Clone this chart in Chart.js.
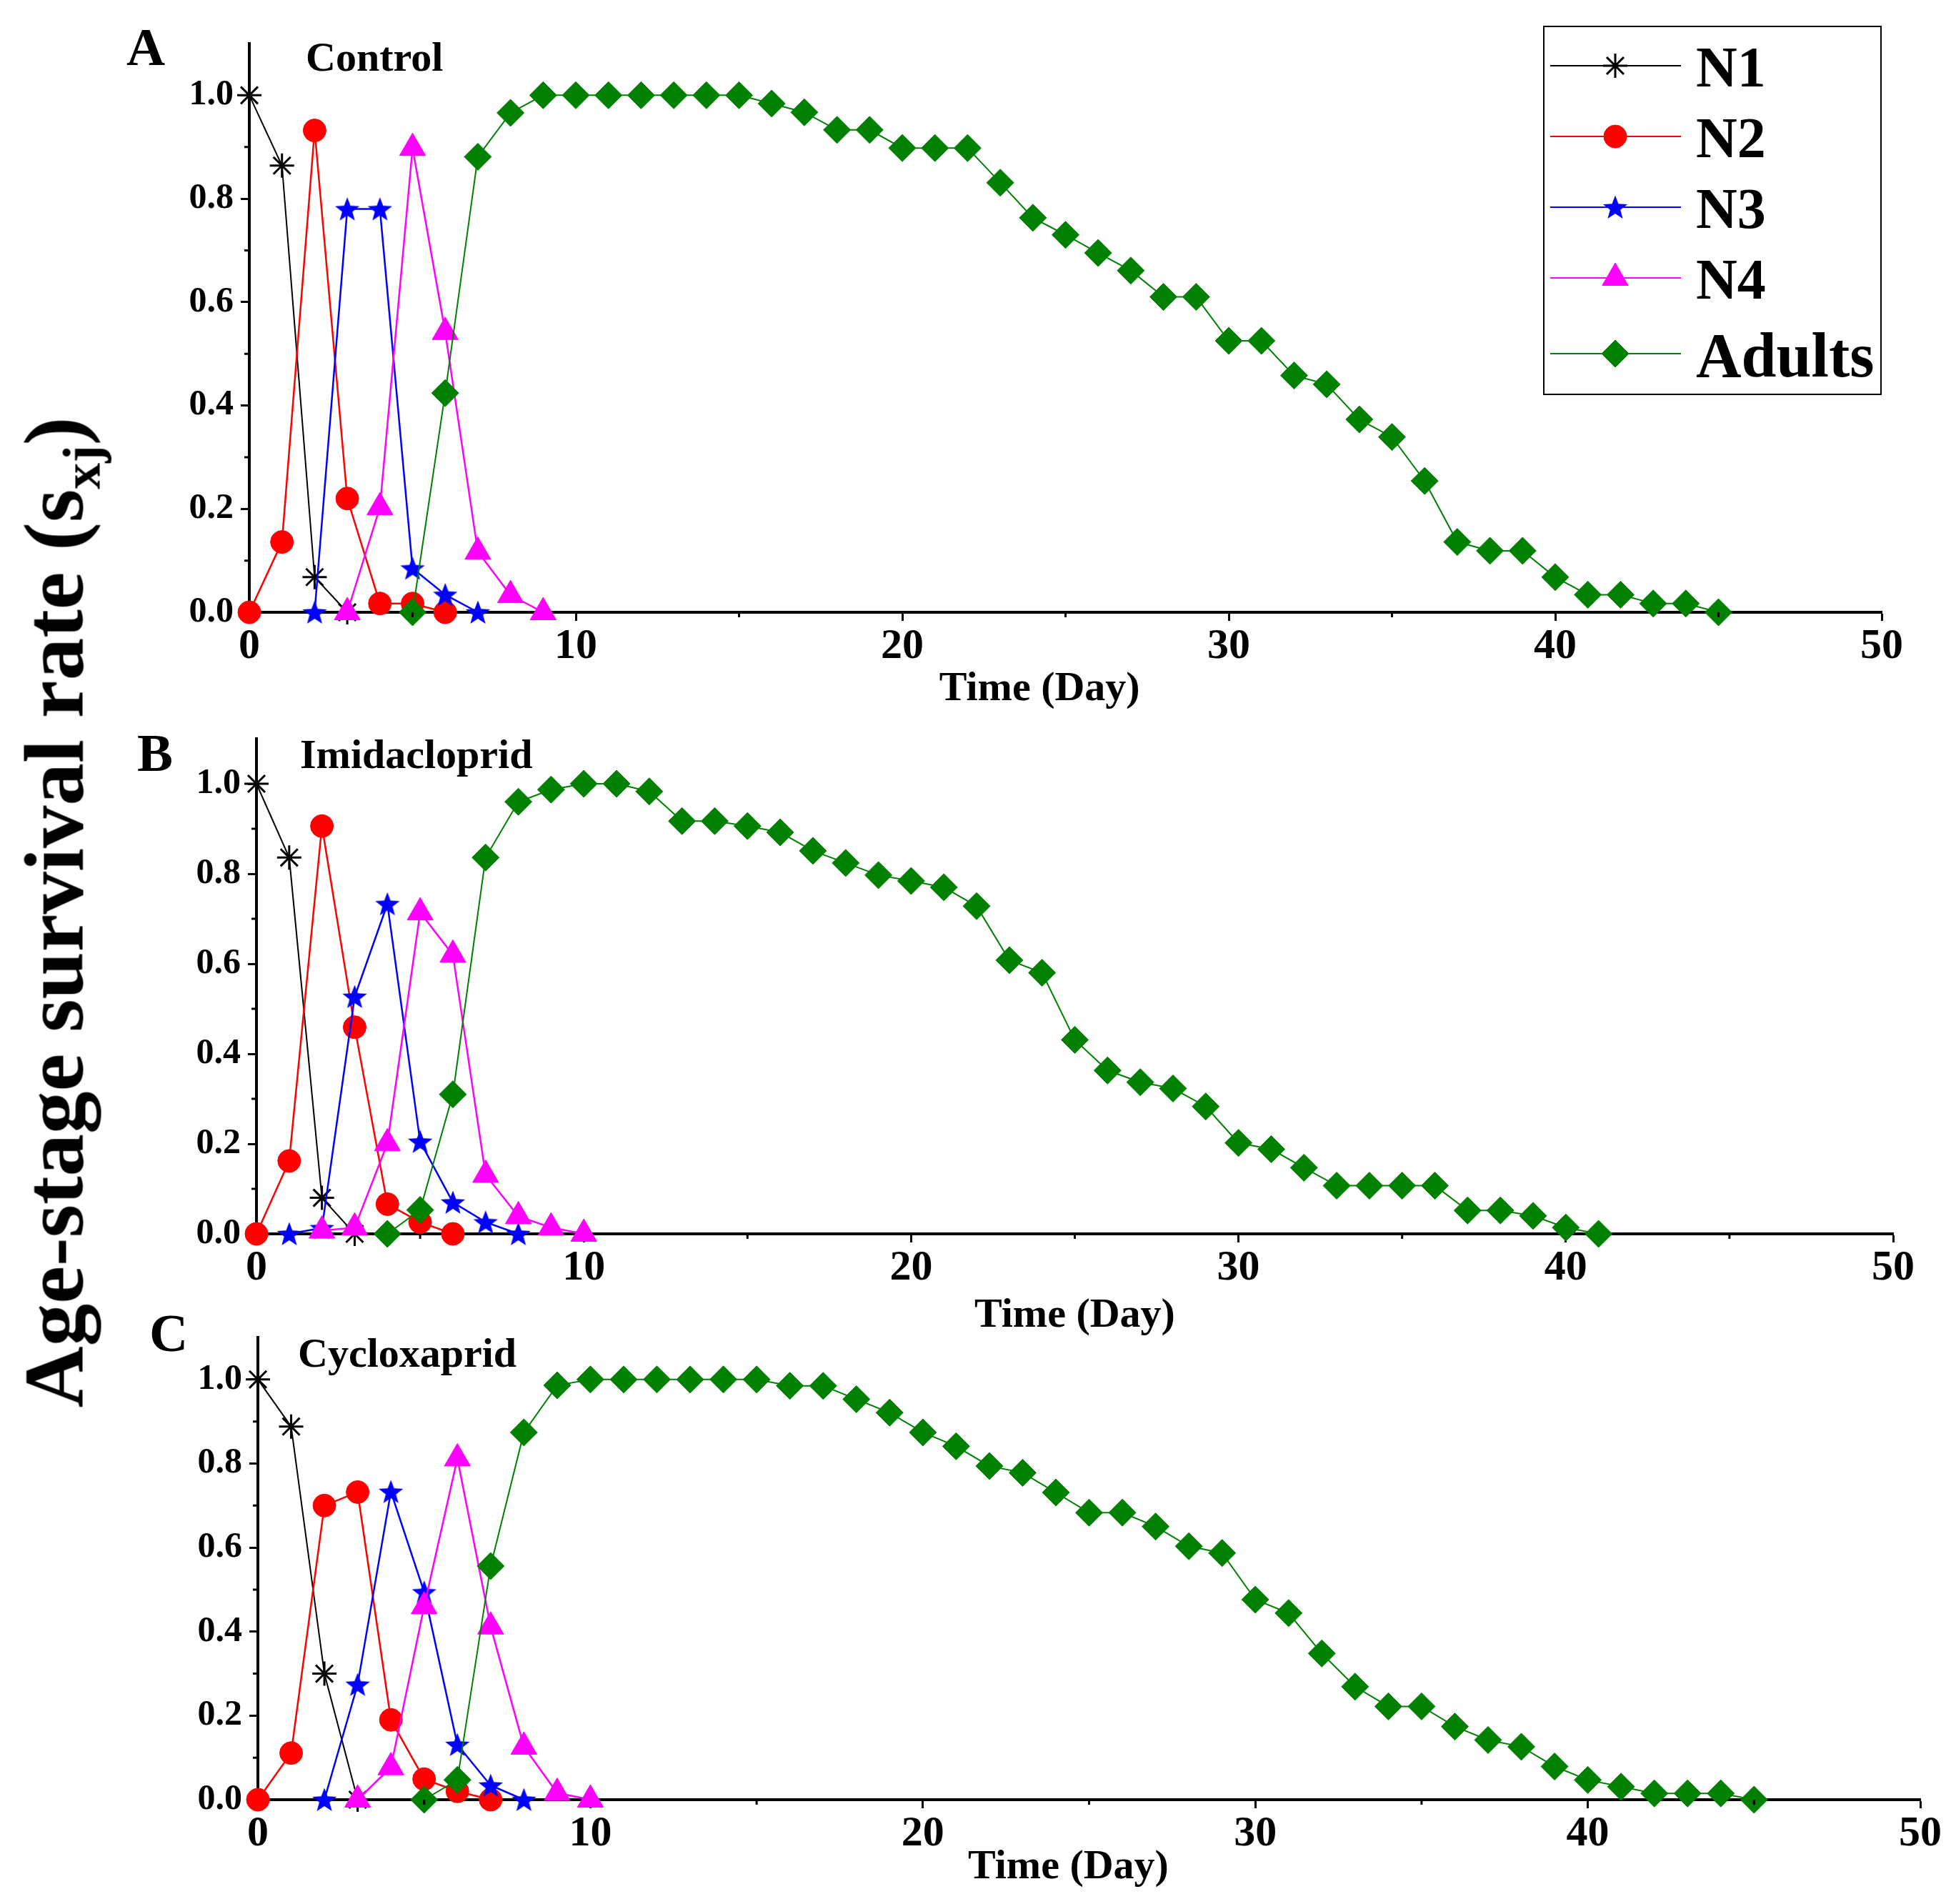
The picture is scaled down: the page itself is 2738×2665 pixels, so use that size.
<!DOCTYPE html>
<html>
<head>
<meta charset="utf-8">
<script src="https://cdn.jsdelivr.net/npm/chart.js@4/dist/chart.umd.min.js"></script>
<style>
  body { margin: 0; width: 2738px; height: 2665px; position: relative; background: #fff; overflow: hidden;
         font-family: 'Liberation Serif', 'Times New Roman', serif; font-weight: bold; color: #000; }
  .panel { position: absolute; left: 0; width: 2738px; }
  .txt { position: absolute; line-height: 1; white-space: nowrap; }
  .letter { font-size: 75px; transform: translate(-50%, -50%); }
  .title { font-size: 58px; transform: translateY(-50%); }
  #ylab { font-size: 119px; left: 76px; top: 1277px; transform: translate(-50%, -50%) rotate(-90deg); }
  #ylab sub { font-size: 0.62em; vertical-align: -0.32em; line-height: 0; }
</style>
</head>
<body>
<div class="panel" id="boxA" style="top:0;height:1000px"><canvas id="chartA"></canvas></div>
<div class="panel" id="boxB" style="top:960px;height:917px"><canvas id="chartB"></canvas></div>
<div class="panel" id="boxC" style="top:1800px;height:849px"><canvas id="chartC"></canvas></div>

<div class="txt letter" style="left:204px;top:65px">A</div>
<div class="txt title" style="left:428px;top:80px">Control</div>
<div class="txt letter" style="left:217px;top:1053px">B</div>
<div class="txt title" style="left:420px;top:1056px">Imidacloprid</div>
<div class="txt letter" style="left:236px;top:1865px">C</div>
<div class="txt title" style="left:417px;top:1894px">Cycloxaprid</div>
<div class="txt" id="ylab">Age-stage survival rate (s<sub>xj</sub>)</div>

<script>
// stage names and the axis ticks
const STAGES = ['N1', 'N2', 'N3', 'N4', 'Adults'];
const X_TICKS = [0, 10, 20, 30, 40, 50];
const X_MINOR = [5, 15, 25, 35, 45];
const Y_TICKS = [0, 0.2, 0.4, 0.6, 0.8, 1.0];
const Y_MINOR = [0.1, 0.3, 0.5, 0.7, 0.9];

// first day of each stage curve, per treatment (N1, N2, N3, N4, Adults)
const CONTROL_START = [0, 0, 2, 3, 5];
const IMI_START = [0, 0, 1, 2, 4];
const CYC_START = [0, 0, 2, 3, 5];

// A: Control
const CONTROL_N1 = [1, 0.864, 0.068, 0];
const CONTROL_N2 = [0, 0.136, 0.932, 0.22, 0.017, 0.017, 0];
const CONTROL_N3 = [0, 0.78, 0.78, 0.085, 0.034, 0];
const CONTROL_N4 = [0, 0.203, 0.898, 0.542, 0.117, 0.033, 0];
const CONTROL_AD = [0, 0.424, 0.881, 0.966, 1, 1, 1, 1, 1, 1, 1, 0.984, 0.967, 0.933, 0.933, 0.898, 0.898,
  0.898, 0.831, 0.763, 0.73, 0.695, 0.661, 0.61, 0.61, 0.525, 0.525, 0.458, 0.441, 0.373, 0.339, 0.254,
  0.136, 0.119, 0.119, 0.068, 0.034, 0.034, 0.017, 0.017, 0];

// B: Imidacloprid
const IMI_N1 = [1, 0.836, 0.08, 0];
const IMI_N2 = [0, 0.162, 0.906, 0.459, 0.066, 0.026, 0];
const IMI_N3 = [0, 0.013, 0.527, 0.733, 0.205, 0.07, 0.026, 0];
const IMI_N4 = [0.007, 0.014, 0.201, 0.714, 0.62, 0.131, 0.039, 0.014, 0];
const IMI_AD = [0, 0.053, 0.31, 0.836, 0.96, 0.987, 1, 1, 0.983, 0.917, 0.917, 0.906, 0.892, 0.851, 0.824,
  0.797, 0.784, 0.77, 0.728, 0.608, 0.58, 0.431, 0.363, 0.337, 0.323, 0.283, 0.202, 0.188, 0.147, 0.107,
  0.107, 0.107, 0.107, 0.052, 0.052, 0.04, 0.014, 0];

// C: Cycloxaprid
const CYC_N1 = [1, 0.888, 0.3, 0];
const CYC_N2 = [0, 0.111, 0.7, 0.732, 0.19, 0.049, 0.02, 0];
const CYC_N3 = [0, 0.274, 0.733, 0.494, 0.131, 0.034, 0];
const CYC_N4 = [0, 0.077, 0.46, 0.812, 0.412, 0.126, 0.016, 0];
const CYC_AD = [0, 0.047, 0.556, 0.874, 0.986, 1, 1, 1, 1, 1, 1, 0.985, 0.985, 0.953, 0.921, 0.874, 0.841,
  0.794, 0.778, 0.731, 0.683, 0.683, 0.65, 0.603, 0.587, 0.476, 0.444, 0.348, 0.269, 0.222, 0.222, 0.174,
  0.142, 0.126, 0.079, 0.047, 0.031, 0.015, 0.015, 0.015, 0];

const FONT = "'Liberation Serif', 'Times New Roman', serif";
const COLORS = ['#000000', '#ff0000', '#0000ff', '#ff00ff', '#008000'];

// five-pointed filled star for N3 (chart.js only has the asterisk-type 'star')
function starImage(r, color) {
  const c = document.createElement('canvas');
  c.width = c.height = Math.ceil(r * 2) + 2;
  const g = c.getContext('2d');
  const m = c.width / 2;
  g.beginPath();
  for (let i = 0; i < 10; i++) {
    const rr = i % 2 ? r * 0.42 : r;
    const a = -Math.PI / 2 + i * Math.PI / 5;
    g.lineTo(m + rr * Math.cos(a), m + rr * Math.sin(a) + r * 0.08);
  }
  g.closePath();
  g.fillStyle = color;
  g.fill();
  return c;
}

const MARKERS = [
  { pointStyle: 'star', pointRadius: 17, pointBorderWidth: 3, borderWidth: 2 },
  { pointStyle: 'circle', pointRadius: 16, pointBorderWidth: 1, borderWidth: 2.5 },
  { pointStyle: starImage(18, COLORS[2]), pointRadius: 18, pointBorderWidth: 0, borderWidth: 2.5 },
  { pointStyle: 'triangle', pointRadius: 21, pointBorderWidth: 1, borderWidth: 2.5 },
  { pointStyle: 'rectRot', pointRadius: 19, pointBorderWidth: 1, borderWidth: 2 },
];

function datasets(starts, series) {
  return series.map((vals, i) => ({
    label: STAGES[i],
    data: vals.map((v, k) => ({ x: starts[i] + k, y: v })),
    borderColor: COLORS[i],
    backgroundColor: COLORS[i],
    pointBackgroundColor: COLORS[i],
    pointBorderColor: COLORS[i],
    ...MARKERS[i],
    pointHoverRadius: MARKERS[i].pointRadius,
    tension: 0,
    clip: false,
    order: STAGES.length - i,
  }));
}

const minorTicks = {
  id: 'minorTicks',
  afterDraw(chart) {
    const { ctx, scales: { x, y } } = chart;
    ctx.save();
    ctx.strokeStyle = '#000';
    ctx.lineWidth = 3;
    ctx.beginPath();
    X_MINOR.forEach(v => { const p = x.getPixelForValue(v); ctx.moveTo(p, x.top); ctx.lineTo(p, x.top + 7); });
    Y_MINOR.forEach(v => { const p = y.getPixelForValue(v); ctx.moveTo(y.right, p); ctx.lineTo(y.right - 7, p); });
    ctx.stroke();
    ctx.restore();
  }
};

const stageLegend = {
  id: 'stageLegend',
  afterDraw(chart) {
    const ctx = chart.ctx;
    const rows = [92, 191, 290, 389, 495];
    ctx.save();
    ctx.strokeStyle = '#000';
    ctx.lineWidth = 2;
    ctx.strokeRect(2161, 37, 472, 515);
    chart.data.datasets.forEach((ds, i) => {
      const yy = rows[i];
      ctx.strokeStyle = ds.borderColor;
      ctx.fillStyle = ds.borderColor;
      ctx.lineWidth = 2;
      ctx.beginPath();
      ctx.moveTo(2170, yy);
      ctx.lineTo(2353, yy);
      ctx.stroke();
      ctx.lineWidth = ds.pointBorderWidth || 1;
      Chart.helpers.drawPoint(ctx, { pointStyle: ds.pointStyle, radius: ds.pointRadius, rotation: 0,
        borderWidth: ds.pointBorderWidth }, 2261, yy);
      const size = ds.label === 'Adults' ? 88 : 80;
      ctx.fillStyle = '#000';
      ctx.font = `bold ${size}px ${FONT}`;
      ctx.textBaseline = 'alphabetic';
      ctx.textAlign = 'left';
      ctx.fillText(ds.label, 2374, yy + 3 + size * 0.331);
    });
    ctx.restore();
  }
};

function makeChart(id, sets, box, extra) {
  return new Chart(document.getElementById(id), {
    type: 'line',
    data: { datasets: sets },
    plugins: [minorTicks].concat(extra || []),
    options: {
      responsive: true,
      maintainAspectRatio: false,
      animation: false,
      events: [],
      layout: { padding: { left: box.left - 120, right: 2738 - box.right, top: box.padTop, bottom: 0 } },
      plugins: { legend: { display: false }, tooltip: { enabled: false } },
      scales: {
        x: {
          type: 'linear', min: 0, max: 50,
          afterBuildTicks: s => { s.ticks = X_TICKS.map(v => ({ value: v })); },
          afterFit: s => { s.height = box.xh; },
          ticks: { color: '#000', font: { family: FONT, size: 60, weight: 'bold' }, padding: 0, maxRotation: 0 },
          grid: { drawOnChartArea: false, tickLength: 12, tickWidth: 3, tickColor: '#000' },
          border: { display: true, color: '#000', width: 4 },
          // trailing spaces nudge the centred title left, as in the source figure
          title: { display: true, text: 'Time (Day)' + ' '.repeat(box.titleShift), color: '#000', padding: 0,
                   font: { family: FONT, size: 58, weight: 'bold' } },
        },
        y: {
          min: 0, max: 1.1,
          afterBuildTicks: s => { s.ticks = Y_TICKS.map(v => ({ value: v })); },
          afterFit: s => { s.width = 120; },
          ticks: { color: '#000', font: { family: FONT, size: 50, weight: 'bold' }, padding: 10,
                   callback: v => Number(v).toFixed(1) },
          grid: { drawOnChartArea: false, tickLength: 12, tickWidth: 3, tickColor: '#000' },
          border: { display: true, color: '#000', width: 4 },
        },
      },
    },
  });
}

makeChart('chartA', datasets(CONTROL_START, [CONTROL_N1, CONTROL_N2, CONTROL_N3, CONTROL_N4, CONTROL_AD]),
  { left: 349, right: 2634, padTop: 61, xh: 143, titleShift: 5 }, [stageLegend]);
makeChart('chartB', datasets(IMI_START, [IMI_N1, IMI_N2, IMI_N3, IMI_N4, IMI_AD]),
  { left: 359, right: 2650, padTop: 74, xh: 150, titleShift: 0 });
makeChart('chartC', datasets(CYC_START, [CYC_N1, CYC_N2, CYC_N3, CYC_N4, CYC_AD]),
  { left: 361, right: 2688, padTop: 72, xh: 130, titleShift: 4 });
</script>
</body>
</html>
